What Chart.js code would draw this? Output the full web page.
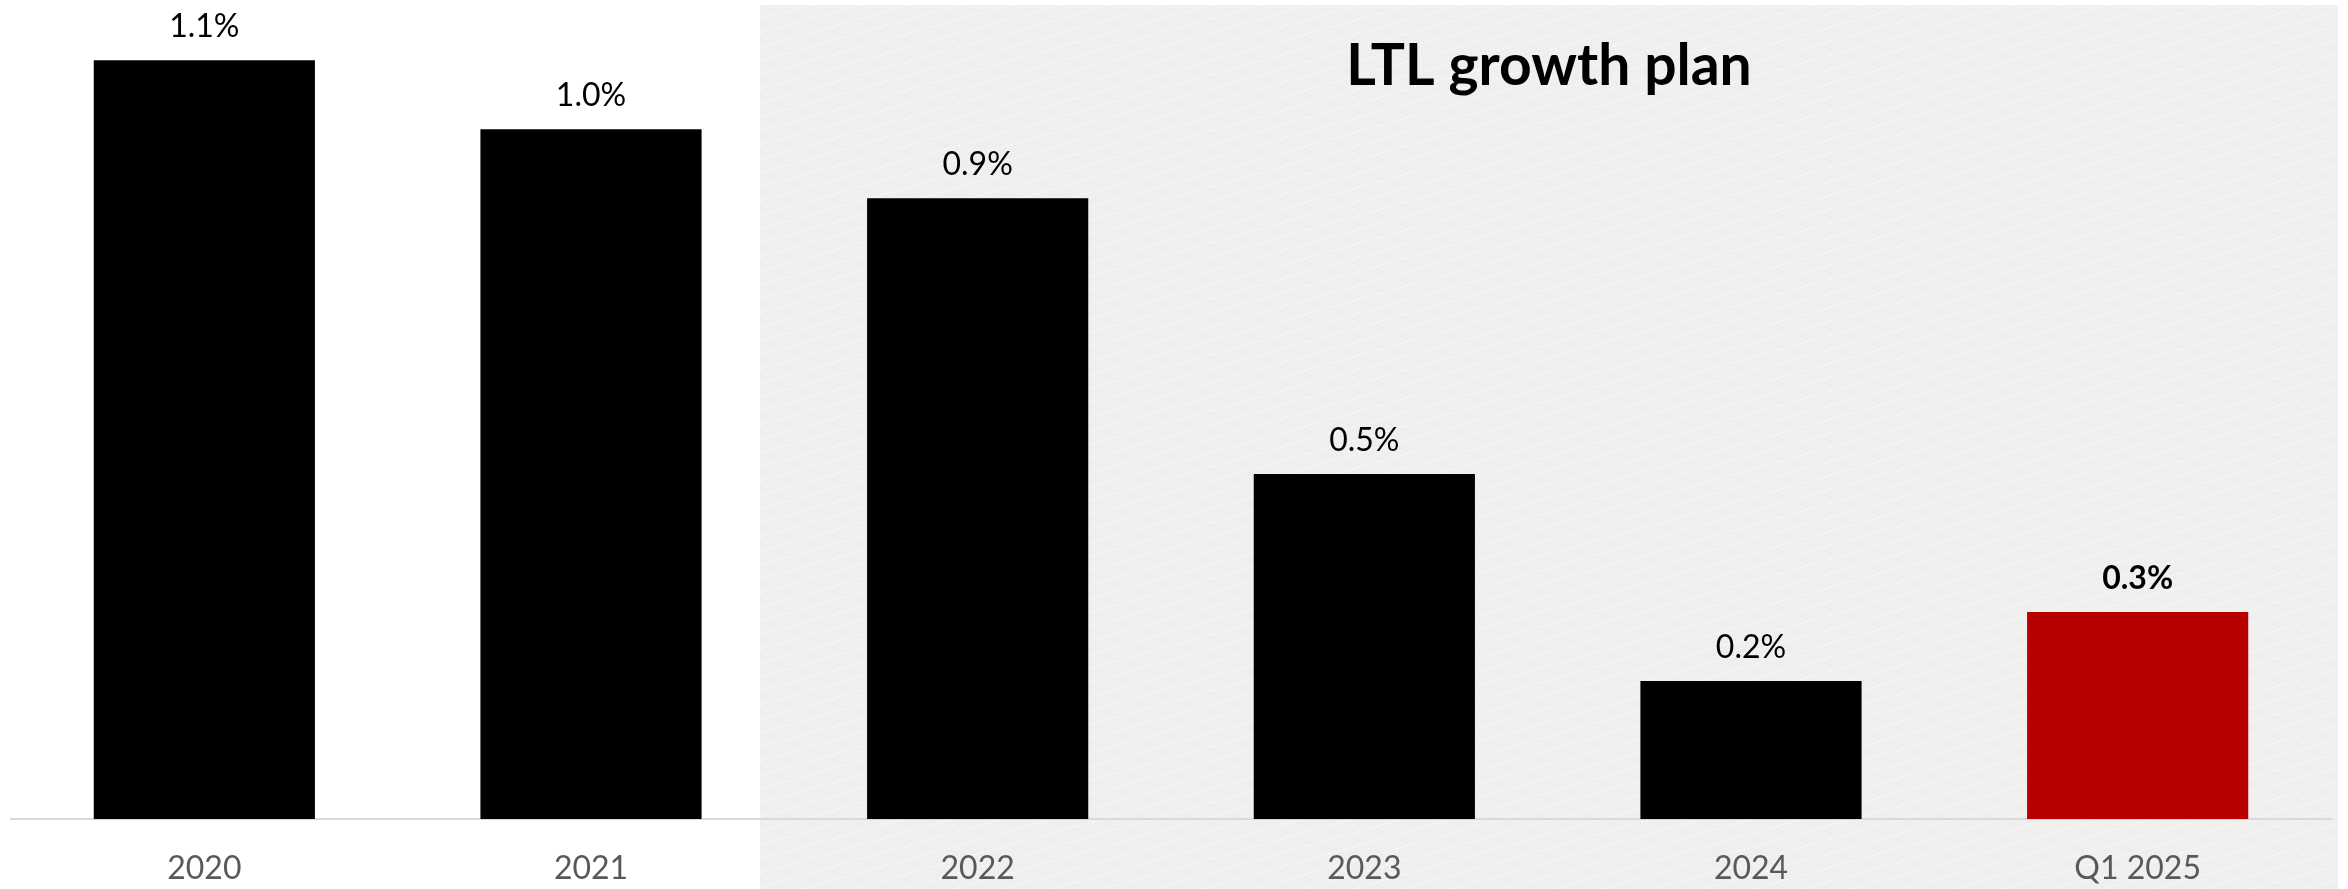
<!DOCTYPE html>
<html>
<head>
<meta charset="utf-8">
<title>LTL growth plan</title>
<script src="https://cdn.jsdelivr.net/npm/chart.js@4"></script>
<style>
  html, body { margin: 0; padding: 0; background: #ffffff; }
  #wrap { width: 2348px; height: 889px; }
</style>
</head>
<body>
<div id="wrap"><canvas id="ltlChart" width="2348" height="889"></canvas></div>
<script>
// ==============================
// Chart data
// ==============================
const categories = ["2020", "2021", "2022", "2023", "2024", "Q1 2025"];
const ltlGrowth = [1.1, 1.0, 0.9, 0.5, 0.2, 0.3];
const highlightIndex = 5; // latest period shown in red, bold label

const FONT = "Lato, 'Noto Sans', sans-serif";

// ==============================
// Plan panel: grey box with faint diagonal hatching behind 2022 onwards
// ==============================
const planPanel = {
  id: "planPanel",
  beforeDraw(chart) {
    const ctx = chart.ctx;
    const x0 = 760, x1 = 2338, y0 = 5, y1 = chart.height;
    ctx.save();
    ctx.fillStyle = "#efefef";
    ctx.fillRect(x0, y0, x1 - x0, y1 - y0);
    ctx.beginPath();
    ctx.rect(x0, y0, x1 - x0, y1 - y0);
    ctx.clip();
    ctx.strokeStyle = "rgba(255,255,255,0.75)";
    ctx.lineWidth = 1;
    ctx.setLineDash([3, 2]);
    const slope = 0.28;
    const span = (x1 - x0) * slope;
    for (let y = y0; y < y1 + span; y += 14) {
      ctx.beginPath();
      ctx.moveTo(x0, y);
      ctx.lineTo(x1, y - span);
      ctx.stroke();
    }
    ctx.restore();

    // panel heading
    ctx.save();
    ctx.fillStyle = "#000000";
    ctx.font = "bold 57px " + FONT;
    ctx.textAlign = "center";
    ctx.textBaseline = "alphabetic";
    ctx.fillText("LTL growth plan", 1549, 85);
    ctx.restore();
  }
};

// ==============================
// Value labels above each bar
// ==============================
const valueLabels = {
  id: "valueLabels",
  afterDatasetsDraw(chart) {
    const ctx = chart.ctx;
    const meta = chart.getDatasetMeta(0);
    ctx.save();
    ctx.textAlign = "center";
    ctx.textBaseline = "alphabetic";
    ctx.fillStyle = "#000000";
    meta.data.forEach((bar, i) => {
      const val = chart.data.datasets[0].data[i];
      ctx.font = (i === highlightIndex ? "bold " : "") + "32px " + FONT;
      ctx.fillText(val.toFixed(1) + "%", bar.x, bar.y - 23);
    });
    ctx.restore();
  }
};

const ctx = document.getElementById("ltlChart").getContext("2d");
new Chart(ctx, {
  type: "bar",
  data: {
    labels: categories,
    datasets: [{
      data: ltlGrowth,
      backgroundColor: ltlGrowth.map((_, i) => i === highlightIndex ? "#b90000" : "#000000"),
      borderWidth: 0,
      categoryPercentage: 1,
      barPercentage: 0.572
    }]
  },
  options: {
    responsive: false,
    animation: false,
    devicePixelRatio: 1,
    layout: { padding: { left: 11, right: 17, top: 5, bottom: 0 } },
    plugins: {
      legend: { display: false },
      title: { display: false },
      tooltip: { enabled: false }
    },
    scales: {
      x: {
        grid: { display: false, drawTicks: false },
        border: { display: true, color: "#d9d9d9", width: 2 },
        ticks: {
          color: "#595959",
          font: { family: FONT, size: 32 },
          padding: 30
        },
        afterFit(scale) { scale.height = 70; }
      },
      y: {
        display: false,
        min: 0,
        max: 1.18
      }
    }
  },
  plugins: [planPanel, valueLabels]
});
</script>
</body>
</html>
